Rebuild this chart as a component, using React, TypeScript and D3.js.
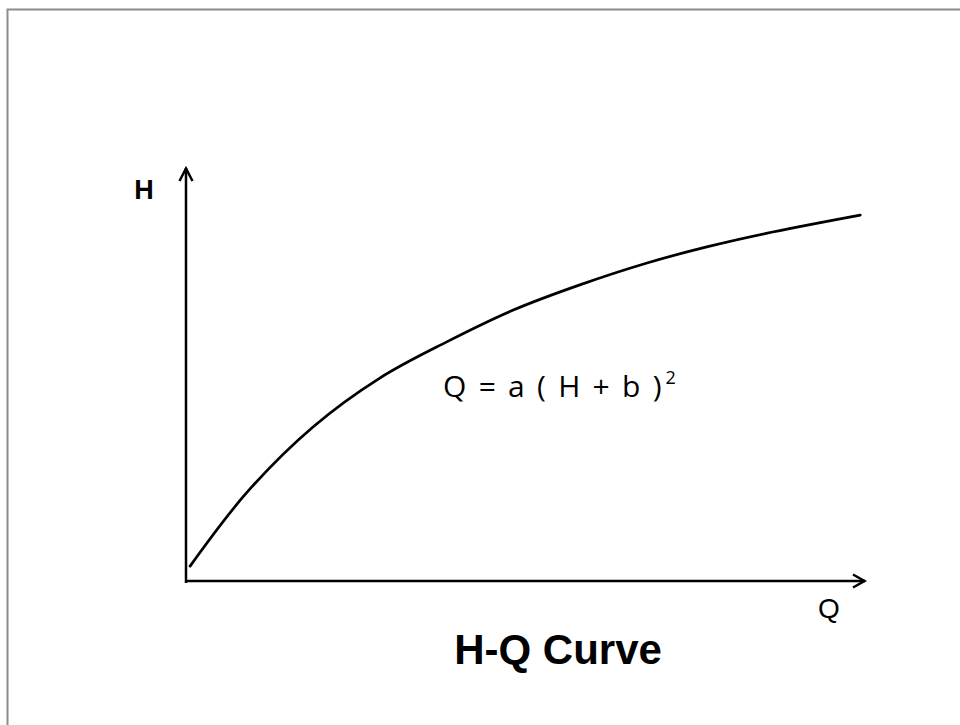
import React from "react";
import * as d3 from "d3";

// Discharge Q and stage H sampled along the rating curve (relative units, 0–100)
const qValues = [0.6, 9.0, 18.7, 28.6, 38.4, 48.2, 58.0, 67.9, 76.7, 86.4, 99.3];
const hValues = [3.6, 21.5, 37.3, 49.2, 57.9, 65.6, 71.7, 77.0, 80.9, 84.5, 88.6];

const xAxisLabel = "Q";
const yAxisLabel = "H";
const equationMain = "Q = a ( H + b )";
const equationExp = "2";
const chartTitle = "H-Q Curve";

const W = 960;
const H = 725;

export default function App() {
  const x = d3.scaleLinear().domain([0, 100]).range([186, 865]);
  const y = d3.scaleLinear().domain([0, 100]).range([581, 168]);

  const pts: [number, number][] = qValues.map((q, i) => [q, hValues[i]]);
  const line = d3
    .line<[number, number]>()
    .x((d) => x(d[0]))
    .y((d) => y(d[1]))
    .curve(d3.curveCatmullRom.alpha(0.5));

  const x0 = x(0);
  const y0 = y(0);
  const xEnd = x(100);
  const yEnd = y(100);

  return (
    <svg
      width={W}
      height={H}
      viewBox={`0 0 ${W} ${H}`}
      style={{ position: "absolute", left: 0, top: 0, background: "#fff" }}
    >
      <rect x={0} y={0} width={W} height={H} fill="#fff" />
      {/* frame */}
      <path d={`M7.5,${H} V9.5 H${W}`} fill="none" stroke="#8c8c8c" strokeWidth={2} />

      {/* axes */}
      <line x1={x0} y1={y0 + 2} x2={x0} y2={yEnd} stroke="#000" strokeWidth={2.5} />
      <line x1={x0 - 1} y1={y0} x2={xEnd} y2={y0} stroke="#000" strokeWidth={2.5} />
      <path
        d={`M${x0 - 6.5},${yEnd + 13} L${x0},${yEnd + 0.5} L${x0 + 6.5},${yEnd + 13}`}
        fill="none"
        stroke="#000"
        strokeWidth={2.5}
        strokeLinejoin="miter"
      />
      <path
        d={`M${xEnd - 12},${y0 - 6.5} L${xEnd - 0.5},${y0} L${xEnd - 12},${y0 + 6.5}`}
        fill="none"
        stroke="#000"
        strokeWidth={2.5}
        strokeLinejoin="miter"
      />

      {/* rating curve */}
      <path d={line(pts) ?? ""} fill="none" stroke="#000" strokeWidth={2.7} strokeLinecap="round" />

      {/* axis labels */}
      <text
        x={144}
        y={199}
        textAnchor="middle"
        fontFamily="'Liberation Sans', Arial, sans-serif"
        fontWeight="bold"
        fontSize={27}
        fill="#000"
      >
        {yAxisLabel}
      </text>
      <text
        x={829}
        y={618}
        textAnchor="middle"
        fontFamily="'Liberation Sans', Arial, sans-serif"
        fontSize={28}
        fill="#000"
      >
        {xAxisLabel}
      </text>

      {/* equation */}
      <text
        x={443}
        y={397}
        fontFamily="'Open Sans', 'Noto Sans', sans-serif"
        fontSize={30}
        wordSpacing={4.5}
        fill="#000"
      >
        {equationMain}
        <tspan fontSize={18} dx={4} dy={-13}>
          {equationExp}
        </tspan>
      </text>

      {/* title */}
      <text
        x={558}
        y={664}
        textAnchor="middle"
        fontFamily="'Liberation Sans', Arial, sans-serif"
        fontWeight="bold"
        fontSize={42}
        fill="#000"
      >
        {chartTitle}
      </text>
    </svg>
  );
}
